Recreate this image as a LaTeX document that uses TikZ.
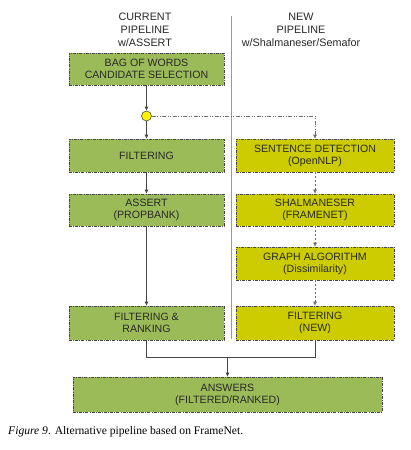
\documentclass[tikz,border=0pt]{standalone}
\usepackage{fontspec}
\setmainfont{Liberation Serif}
\setsansfont{Liberation Sans}
\usetikzlibrary{arrows.meta}
\definecolor{boxgreen}{RGB}{155,187,89}
\definecolor{boxolive}{RGB}{204,204,0}
\definecolor{txtgray}{RGB}{40,40,40}
\definecolor{linegray}{RGB}{70,70,70}
\tikzset{
  x=1pt,y=-1pt,
  pbox/.style={draw=linegray, line width=0.6pt, dash pattern=on 3pt off 1.2pt on 0.8pt off 1.2pt,
    minimum height=32pt, inner sep=0pt, align=center, text=txtgray,
    font=\sffamily\fontsize{10.6}{12}\selectfont},
  lbox/.style={pbox, fill=boxgreen, minimum width=155pt},
  rbox/.style={pbox, fill=boxolive, minimum width=158pt},
  head/.style={align=center, text=txtgray, font=\sffamily\fontsize{10.8}{13}\selectfont},
  solidarrow/.style={draw=linegray, line width=0.6pt, -{Latex[length=4pt,width=4pt]}},
  dasharrow/.style={draw=linegray!80, line width=0.6pt, dash pattern=on 2pt off 2pt, -{Latex[length=4pt,width=4pt]}},
  dotdasharrow/.style={draw=linegray!80, line width=0.6pt, dash pattern=on 4pt off 1.5pt on 1pt off 1.5pt on 1pt off 1.5pt, -{Latex[length=4pt,width=4pt]}},
  plainline/.style={draw=linegray, line width=0.6pt},
}
\begin{document}
\begin{tikzpicture}
\useasboundingbox (0,0) rectangle (411,450);
\fill[white] (0,0) rectangle (411,450);
% headings
\node[head] (hcur) at (145,30) {CURRENT\\PIPELINE\\w/ASSERT};
\node[head] (hnew) at (301,30) {NEW\\PIPELINE\\w/Shalmaneser/Semafor};
% separator
\coordinate (septop) at (231,16);
\coordinate (sepbot) at (231,339);
\draw[draw=gray!80, line width=0.6pt] (septop) -- (sepbot);
% left boxes
\node[lbox] (bow) at (146.5,69) {BAG OF WORDS\\CANDIDATE SELECTION};
\node[circle, draw=linegray, line width=0.6pt, fill=yellow, minimum size=10pt, inner sep=0pt] (dot) at (146.5,116) {};
\node[lbox, minimum height=33pt] (filt) at (146.5,155.5) {FILTERING};
\node[lbox] (assert) at (146.5,210) {ASSERT\\(PROPBANK)};
\node[lbox, minimum height=34pt] (fr) at (146.5,323) {FILTERING \&\\RANKING};
% right boxes
\node[rbox, minimum height=33pt] (sd) at (315,155.5) {SENTENCE DETECTION\\(OpenNLP)};
\node[rbox] (shal) at (315,210) {SHALMANESER\\(FRAMENET)};
\node[rbox, minimum height=33pt] (graph) at (315,263.5) {GRAPH ALGORITHM\\(Dissimilarity)};
\node[rbox, minimum height=34pt] (fnew) at (315,323) {FILTERING\\(NEW)};
% answers
\node[lbox, minimum width=309pt, minimum height=35pt] (ans) at (227.5,394.5) {ANSWERS\\(FILTERED/RANKED)};
% connectors left
\draw[solidarrow] (bow.south) -- (dot.north);
\draw[solidarrow] (dot.south) -- (filt.north);
\draw[solidarrow] (filt.south) -- (assert.north);
\draw[solidarrow] (assert.south) -- (fr.north);
% connectors right
\draw[dotdasharrow] (dot.east) -| (sd.north);
\draw[dasharrow] (sd.south) -- (shal.north);
\draw[dasharrow] (shal.south) -- (graph.north);
\draw[dasharrow] (graph.south) -- (fnew.north);
% merge
\coordinate (join) at (227.5,357);
\draw[plainline] (fr.south) |- (join);
\draw[plainline] (fnew.south) |- (join);
\draw[solidarrow] (join) -- (ans.north);
% caption
\node[anchor=west, text=black, font=\fontsize{11.6}{13}\selectfont, inner sep=0pt] (cap) at (8,432) {\textit{Figure 9}. Alternative pipeline based on FrameNet.};
\end{tikzpicture}
\end{document}
